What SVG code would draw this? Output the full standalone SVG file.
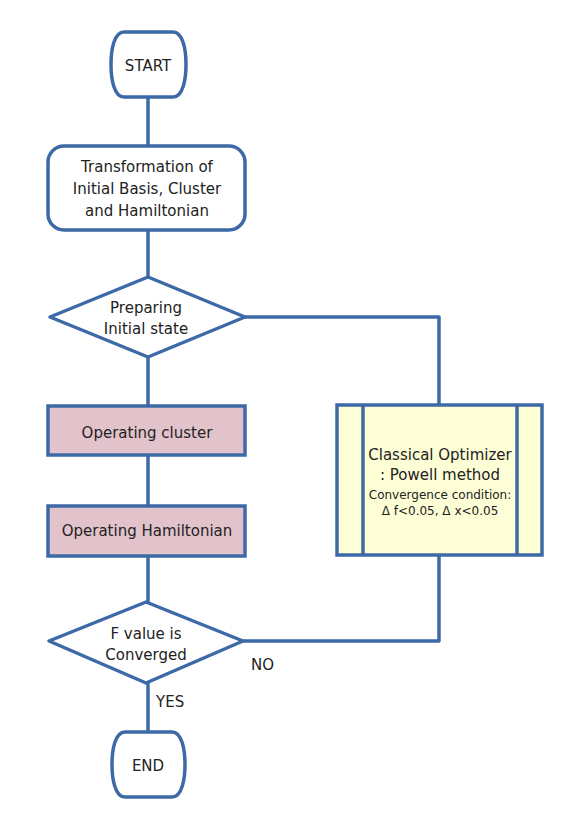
<svg xmlns="http://www.w3.org/2000/svg" width="579" height="819" viewBox="0 0 579 819">
<style>
.s{fill:none;stroke:#3d6aa6;stroke-width:3.5;stroke-linejoin:round}
.w{fill:#ffffff;stroke:#3d6aa6;stroke-width:3.5;stroke-linejoin:round}
.p{fill:#e2c3cc;stroke:#3d6aa6;stroke-width:3.5}
.y{fill:#fefed6;stroke:#3d6aa6;stroke-width:3.5}
text{font-family:"DejaVu Sans","Liberation Sans",sans-serif;font-size:15px;fill:#222;text-anchor:middle}
.sm{font-size:12px}
.lb{text-anchor:start}
</style>
<rect width="579" height="819" fill="#ffffff"/>
<g id="connectors" class="s">
<line x1="148" y1="97" x2="148" y2="146"/>
<line x1="148" y1="230" x2="148" y2="277"/>
<line x1="148" y1="357" x2="148" y2="406"/>
<line x1="148" y1="455" x2="148" y2="506"/>
<line x1="148" y1="556" x2="148" y2="602"/>
<line x1="148" y1="683" x2="148" y2="732"/>
<polyline points="245,317 439,317 439,405"/>
<polyline points="439,555 439,641 243,641"/>
</g>
<g id="start">
<path class="w" d="M124,32 H173 C183,32 186,50 186,64.5 C186,79 183,97 173,97 H124 C114,97 111,79 111,64.5 C111,50 114,32 124,32 Z"/>
<text x="148" y="71">START</text>
</g>
<g id="transform">
<rect class="w" x="48" y="146" width="197" height="84" rx="16"/>
<text x="147" y="172">Transformation of</text>
<text x="147" y="194">Initial Basis, Cluster</text>
<text x="147" y="216">and Hamiltonian</text>
</g>
<g id="prepare">
<polygon class="w" points="148,277 245,317 148,357 50,317"/>
<text x="146" y="313">Preparing</text>
<text x="146" y="334">Initial state</text>
</g>
<g id="cluster">
<rect class="p" x="48" y="406" width="197" height="49"/>
<text x="147" y="438">Operating cluster</text>
</g>
<g id="hamiltonian">
<rect class="p" x="48" y="506" width="197" height="50"/>
<text x="147" y="536">Operating Hamiltonian</text>
</g>
<g id="optimizer">
<rect class="y" x="337" y="405" width="205" height="150"/>
<line class="s" x1="363" y1="405" x2="363" y2="555"/>
<line class="s" x1="517" y1="405" x2="517" y2="555"/>
<text x="440" y="460">Classical Optimizer</text>
<text x="440" y="480">: Powell method</text>
<text class="sm" x="440" y="499">Convergence condition:</text>
<text class="sm" x="440" y="515">Δ f&lt;0.05,  Δ x&lt;0.05</text>
</g>
<g id="converged">
<polygon class="w" points="146,602 243,641 146,683 49,641"/>
<text x="146" y="639">F value is</text>
<text x="146" y="660">Converged</text>
</g>
<g id="end">
<path class="w" d="M125,732 H172 C182,732 185,750 185,764.5 C185,779 182,797 172,797 H125 C115,797 112,779 112,764.5 C112,750 115,732 125,732 Z"/>
<text x="148" y="771">END</text>
</g>
<g id="labels">
<text class="lb" x="251" y="670">NO</text>
<text class="lb" x="156" y="707">YES</text>
</g>
</svg>
